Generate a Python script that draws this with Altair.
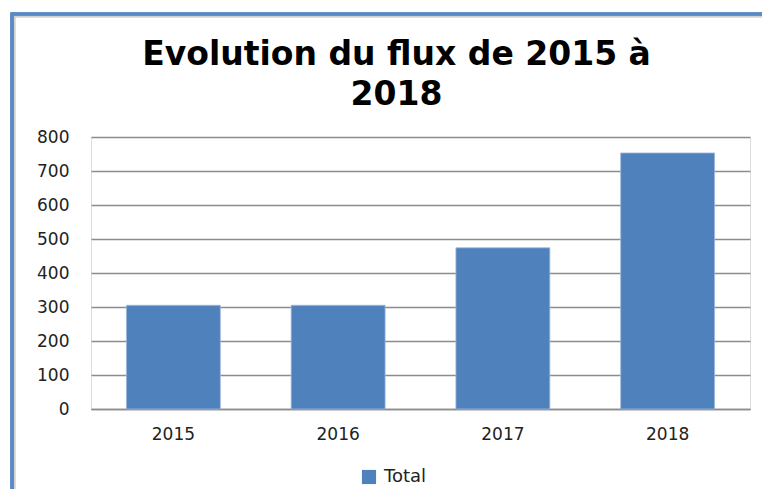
import altair as alt
import pandas as pd

years = ["2015", "2016", "2017", "2018"]
totals = [305, 305, 474, 753]
series = ["Total", "Total", "Total", "Total"]

df = pd.DataFrame({"annee": years, "valeur": totals, "serie": series})

W, H = 659, 272
BLUE = "#4F81BD"
GRID = "#8C8C8C"

bars = alt.Chart(df).mark_bar(color=BLUE, stroke="#9DB8DC", strokeWidth=0.8).encode(
    x=alt.X("annee:N", title=None, sort=years,
            scale=alt.Scale(paddingInner=0.43, paddingOuter=0.215),
            axis=alt.Axis(labelAngle=0, ticks=False, domain=True, domainColor=GRID,
                          domainWidth=1.5, labelFont="DejaVu Sans", labelFontSize=17,
                          labelColor="#222222", labelPadding=17, grid=False)),
    y=alt.Y("valeur:Q", title=None,
            scale=alt.Scale(domain=[0, 800], nice=False),
            axis=alt.Axis(values=list(range(0, 801, 100)), ticks=False, domain=False,
                          gridColor=GRID, gridWidth=1.5, labelFont="DejaVu Sans",
                          labelFontSize=17, labelColor="#222222", labelPadding=22)),
    color=alt.Color("serie:N", scale=alt.Scale(range=[BLUE]),
                    legend=alt.Legend(title=None, orient="none", legendX=269, legendY=331,
                                      symbolType="square", symbolSize=200,
                                      symbolStrokeWidth=0, labelFont="DejaVu Sans",
                                      labelFontSize=18, labelColor="#222222",
                                      labelOffset=6)),
)

# chart frame (decorative border, like the spreadsheet chart area)
frame_blue_top = alt.Chart(df).mark_rule(color="#5A8AC6", strokeWidth=3).encode(
    x=alt.value(-79), x2=alt.value(W + 40), y=alt.value(-123))
frame_gray_top = alt.Chart(df).mark_rule(color="#D0D0D0", strokeWidth=1.5).encode(
    x=alt.value(-77), x2=alt.value(W + 40), y=alt.value(-120.5))
frame_blue_left = alt.Chart(df).mark_rule(color="#5A8AC6", strokeWidth=3).encode(
    x=alt.value(-79), y=alt.value(-124.5), y2=alt.value(H + 100))
frame_gray_left = alt.Chart(df).mark_rule(color="#D0D0D0", strokeWidth=1.5).encode(
    x=alt.value(-76.5), y=alt.value(-121.5), y2=alt.value(H + 100))

chart = alt.layer(frame_gray_top, frame_gray_left, frame_blue_top, frame_blue_left, bars).properties(
    width=W, height=H,
    autosize=alt.AutoSizeParams(type="none"),
    padding={"left": 83, "top": 129, "right": 12, "bottom": 80},
    title=alt.TitleParams(
        text=["Evolution du flux de 2015 à", "2018"],
        font="DejaVu Sans", fontSize=33, fontWeight="bold", color="#000000",
        anchor="middle", dx=-24, lineHeight=40, offset=-101,
    ),
).configure_view(stroke=None).configure(background="white")

chart.save("out.html", embed_options={"renderer": "svg", "actions": False})
